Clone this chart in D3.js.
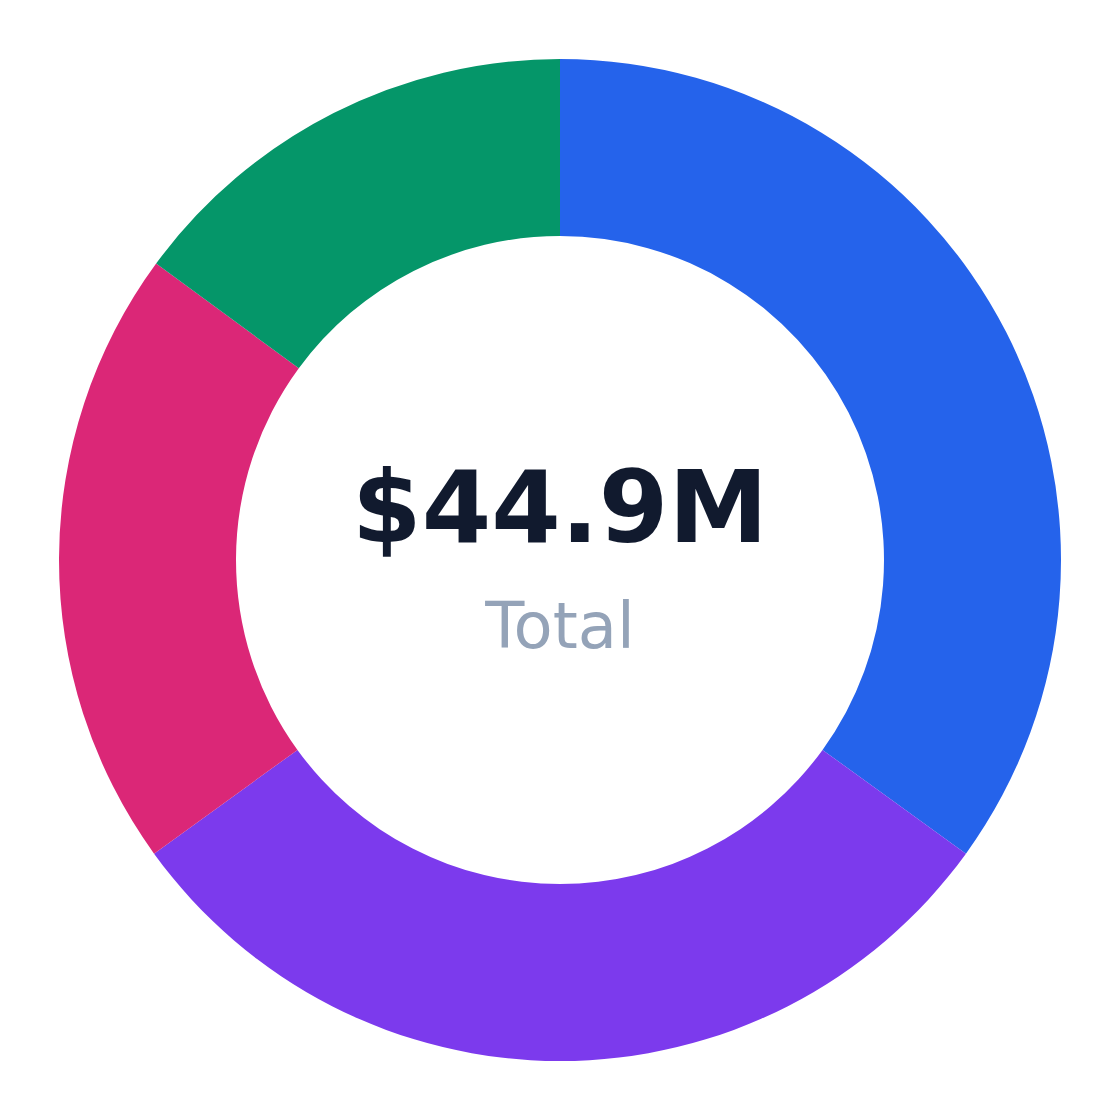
<!DOCTYPE html>
<html><head><meta charset="utf-8">
<script src="https://cdn.jsdelivr.net/npm/d3@7"></script>
<style>html,body{margin:0;padding:0;background:#fff;}</style>
</head><body>
<svg id="c" width="1120" height="1120"></svg>
<script>
const categories = ["A", "B", "C", "D"];
const values = [15.7, 13.5, 9.0, 6.7];
const colors = ["#2563eb", "#7c3aed", "#db2777", "#059669"];
const totalLabel = "$44.9M";
const subLabel = "Total";

const svg = d3.select("#c");
const cx = 560, cy = 560, outerR = 501, innerR = 324;
const g = svg.append("g").attr("transform", `translate(${cx},${cy})`);
const data = categories.map((c, i) => ({cat: c, value: values[i], color: colors[i]}));
const pie = d3.pie().value(d => d.value).sort(null);
const arc = d3.arc().innerRadius(innerR).outerRadius(outerR);
g.selectAll("path").data(pie(data)).join("path")
  .attr("d", arc).attr("fill", d => d.data.color);

g.append("text").attr("x", 0).attr("y", -18).attr("text-anchor", "middle")
  .attr("font-family", "DejaVu Sans").attr("font-weight", "bold")
  .attr("font-size", 100).attr("fill", "#111a2e").text(totalLabel);
g.append("text").attr("x", 0).attr("y", 88).attr("text-anchor", "middle")
  .attr("font-family", "DejaVu Sans")
  .attr("font-size", 64).attr("fill", "#94a3b8").text(subLabel);
</script>
</body></html>
